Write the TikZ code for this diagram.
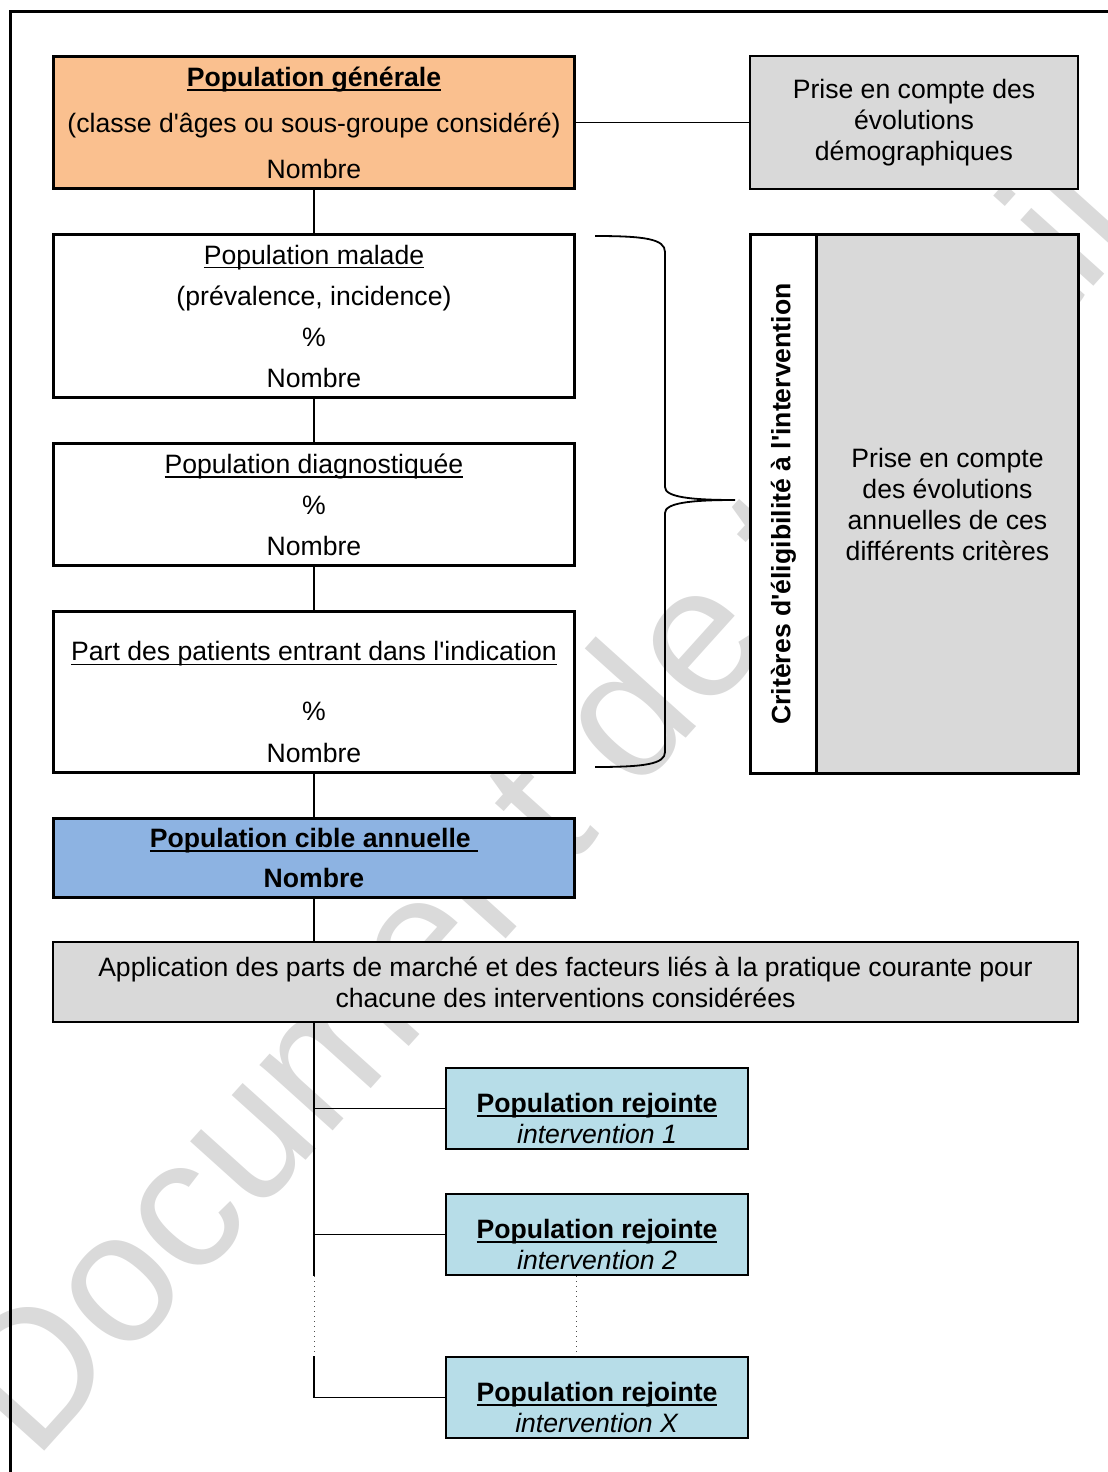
\documentclass[tikz,border=0pt]{standalone}
\usepackage{fontspec}
\setmainfont{Liberation Sans}
\usetikzlibrary{positioning}
\definecolor{BoxPeach}{HTML}{FAC08F}
\definecolor{BoxSky}{HTML}{8DB3E2}
\definecolor{BoxAqua}{HTML}{B7DDE8}
\definecolor{BoxGray}{HTML}{D9D9D9}
\definecolor{MarkGray}{HTML}{DADADA}
\newsavebox\ulbox
\newcommand\ulin[2][0.6pt]{\sbox\ulbox{#2}\makebox[0pt][l]{\rule[-2.2pt]{\wd\ulbox}{#1}}\usebox\ulbox}
\newcommand\ap{\textquotesingle}
\tikzset{
  basebox/.style={rectangle,draw=black,line width=1.5pt,align=center,
    font=\fontsize{13.3}{15.5}\selectfont,inner sep=2pt},
  popbox/.style={basebox,fill=white,minimum width=260.5pt},
  genbox/.style={popbox,fill=BoxPeach,minimum height=66pt},
  cibbox/.style={popbox,fill=BoxSky,minimum height=39.5pt},
  greybox/.style={basebox,fill=BoxGray,line width=1pt},
  rejbox/.style={basebox,fill=BoxAqua,line width=1pt,
    minimum width=151pt,minimum height=40.5pt},
  link/.style={line width=0.9pt,color=black},
  dotlink/.style={line width=0.5pt,dotted,color=black!70},
  brace/.style={line width=0.9pt,color=black}
}
\begin{document}
\begin{tikzpicture}[x=0.5pt,y=-0.5pt,node distance=21.5pt]
  \useasboundingbox (0,0) rectangle (1108,1472);
  \node[rotate=48,anchor=base west,text=MarkGray,inner sep=0pt,
    font=\fontsize{93}{93}\selectfont] (mark) at (34,1463) {Document de travail};
  \draw[line width=1.5pt] (10,1500) -- (10,11) -- (1130,11);

  \node[genbox] (gen) at (314,122.5)
    {\ulin[1pt]{\textbf{Population générale}}\\[7.5pt]
     (classe d\ap{}âges ou sous-groupe considéré)\\[7.5pt] Nombre};
  \node[popbox,minimum height=81.5pt,below=of gen] (mal)
    {\ulin{Population malade}\\[5pt] (prévalence, incidence)\\[5pt] \%\\[5pt] Nombre};
  \node[popbox,minimum height=61pt,below=of mal] (dia)
    {\ulin{Population diagnostiquée}\\[5pt] \%\\[5pt] Nombre};
  \node[popbox,minimum height=80.5pt,below=of dia] (part)
    {\rule{0pt}{19.5pt}\ulin{Part des patients entrant dans l\ap{}indication}\\[14.5pt]
     \%\\[5.5pt] Nombre};
  \node[cibbox,below=of part] (cib)
    {\ulin[1pt]{\textbf{Population cible annuelle\ }}\\[4.5pt] \textbf{Nombre}};
  \node[greybox,minimum width=512.5pt,minimum height=40pt,
    below=21pt of cib.south west,anchor=north west] (appl)
    {Application des parts de marché et des facteurs liés à la pratique courante pour\\
     chacune des interventions considérées};

  \node[greybox,minimum width=164pt,minimum height=66.5pt,right=86.5pt of gen] (demo)
    {Prise en compte des\\ évolutions\\ démographiques};
  \node[basebox,fill=white,minimum width=33pt,minimum height=269.5pt,
    right=86.5pt of mal.north east,anchor=north west] (crit) {};
  \node[basebox,fill=BoxGray,minimum width=131pt,minimum height=269.5pt,
    right=-1.5pt of crit] (critg)
    {Prise en compte\\ des évolutions\\ annuelles de ces\\ différents critères};
  \node[rotate=90,inner sep=0pt,font=\fontsize{13.3}{15.5}\selectfont\bfseries]
    (critlbl) at (crit) {Critères d\ap{}éligibilité à l\ap{}intervention};

  \node[rejbox,anchor=north west] (rj1) at (445,1067)
    {\rule{0pt}{19.5pt}\ulin[1pt]{\textbf{Population rejointe}}\\ \textit{intervention 1}};
  \node[rejbox,below=of rj1] (rj2)
    {\rule{0pt}{19.5pt}\ulin[1pt]{\textbf{Population rejointe}}\\ \textit{intervention 2}};
  \node[rejbox,below=40pt of rj2] (rjx)
    {\rule{0pt}{19.5pt}\ulin[1pt]{\textbf{Population rejointe}}\\ \textit{intervention X}};

  \foreach \a/\b in {gen/mal,mal/dia,dia/part,part/cib,gen/demo}
    \draw[link] (\a) -- (\b);
  \draw[link] (cib.south) -- (cib.south |- appl.north);
  \draw[link] (cib.south |- appl.south) -- (cib.south |- rj2.south);
  \draw[dotlink] (cib.south |- rj2.south) -- (cib.south |- rjx.north);
  \draw[link] (cib.south |- rjx.north) -- (cib.south |- rjx.west) -- (rjx.west);
  \draw[link] (cib.south |- rj1.west) -- (rj1.west);
  \draw[link] (cib.south |- rj2.west) -- (rj2.west);
  \draw[dotlink] (rj2.south -| part.east) -- (rjx.north -| part.east);

  \draw[brace] (595,236) .. controls (645,236) and (665,239) .. (665,252)
    -- (665,487) .. controls (665,497) and (690,500) .. (735,500)
    .. controls (690,500) and (665,503) .. (665,513)
    -- (665,752) .. controls (665,764) and (645,767) .. (595,767);
\end{tikzpicture}
\end{document}
